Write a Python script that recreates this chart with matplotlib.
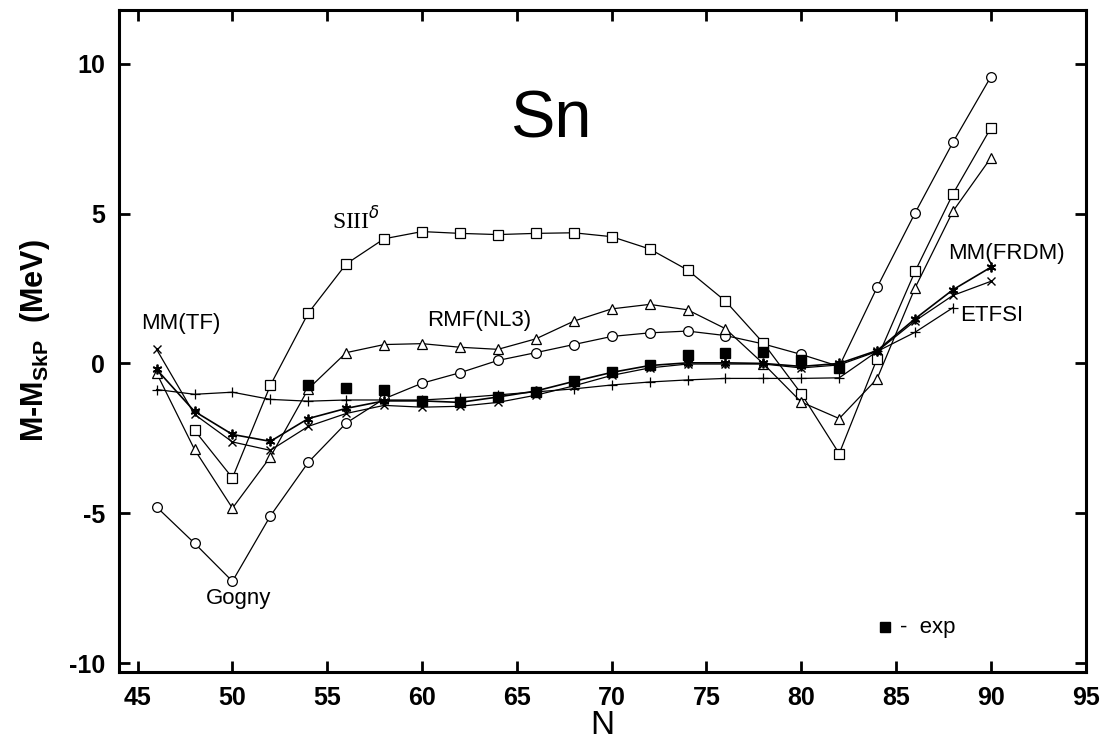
import numpy as np
import matplotlib
matplotlib.use("Agg")
import matplotlib.pyplot as plt

plt.rcParams["font.family"] = ["Liberation Sans", "DejaVu Sans"]
plt.rcParams["axes.unicode_minus"] = False
plt.rcParams["mathtext.fontset"] = "custom"
plt.rcParams["mathtext.rm"] = "Liberation Sans"

# ---- data --------------------------------------------------------------
N_all = [46, 48, 50, 52, 54, 56, 58, 60, 62, 64, 66, 68,
         70, 72, 74, 76, 78, 80, 82, 84, 86, 88, 90]

gogny = [-4.79, -6.0, -7.27, -5.09, -3.3, -1.99, -1.18, -0.66, -0.31, 0.1, 0.36, 0.63,
         0.9, 1.02, 1.08, 0.93, 0.65, 0.3, -0.1, 2.54, 5.02, 7.38, 9.57]

rmf_nl3 = [-0.32, -2.87, -4.83, -3.12, -0.85, 0.36, 0.63, 0.66, 0.54, 0.47, 0.82, 1.41,
           1.82, 1.97, 1.79, 1.16, -0.01, -1.29, -1.84, -0.51, 2.52, 5.08, 6.86]

mm_frdm = [-0.2, -1.6, -2.37, -2.6, -1.84, -1.5, -1.25, -1.25, -1.3, -1.12, -0.92, -0.6,
           -0.3, -0.07, 0.02, 0.02, 0.0, -0.1, 0.0, 0.43, 1.49, 2.46, 3.21]

mm_tf = [0.47, -1.7, -2.62, -2.9, -2.1, -1.67, -1.4, -1.46, -1.43, -1.3, -1.06, -0.75,
         -0.4, -0.15, -0.02, -0.02, -0.02, -0.15, -0.05, 0.4, 1.42, 2.27, 2.74]

N_siii = N_all[1:]
siii = [-2.23, -3.82, -0.73, 1.68, 3.32, 4.16, 4.4, 4.34, 4.3, 4.34, 4.36,
        4.23, 3.82, 3.12, 2.08, 0.68, -1.01, -3.01, 0.16, 3.07, 5.66, 7.86]

N_etfsi = N_all[:-1]
etfsi = [-0.87, -1.03, -0.96, -1.2, -1.26, -1.22, -1.22, -1.22, -1.15, -1.05, -0.95, -0.85,
         -0.72, -0.62, -0.55, -0.5, -0.5, -0.5, -0.48, 0.4, 1.04, 1.86]

N_exp = [54, 56, 58, 60, 62, 64, 66, 68, 70, 72, 74, 76, 78, 80, 82]
exp = [-0.73, -0.81, -0.9, -1.25, -1.3, -1.12, -0.95, -0.6, -0.3, -0.05, 0.27, 0.34,
       0.38, 0.1, -0.15]

x_ticks = [45, 50, 55, 60, 65, 70, 75, 80, 85, 90, 95]
y_ticks = [-10, -5, 0, 5, 10]

# ---- figure ------------------------------------------------------------
fig = plt.figure(figsize=(11.09, 7.56), dpi=100)
ax = fig.add_axes([0.107, 0.111, 0.872, 0.876])

line_kw = dict(color="black", lw=0.9, mfc="white", mec="black", mew=0.9)
ax.plot(N_all, gogny, marker="o", ms=7, **line_kw)
ax.plot(N_siii, siii, marker="s", ms=7, **line_kw)
ax.plot(N_all, rmf_nl3, marker="^", ms=7, **line_kw)
ax.plot(N_etfsi, etfsi, marker="+", ms=7, color="black", lw=0.9, mew=0.9)
ax.plot(N_all, mm_tf, marker="x", ms=6, color="black", lw=0.9, mew=1.0)
ax.plot(N_all, mm_frdm, marker=(6, 2, 0), ms=7, color="black", lw=1.2, mew=1.3)
ax.plot(N_exp, exp, ls="none", marker="s", ms=7, color="black")

ax.set_xlim(44, 95)
ax.set_ylim(-10.3, 11.8)
ax.set_xticks(x_ticks)
ax.set_yticks(y_ticks)
ax.tick_params(direction="in", length=8, width=2, top=True, right=True,
               labelsize=18, pad=10)
for lab in ax.get_xticklabels() + ax.get_yticklabels():
    lab.set_fontweight("bold")
for sp in ax.spines.values():
    sp.set_linewidth(2.2)

ax.set_xlabel("N", fontsize=24, labelpad=0)
ax.set_ylabel("M-M$_{\\mathregular{SkP}}$  (MeV)", fontsize=22,
              fontweight="bold", labelpad=12)

# ---- annotations -------------------------------------------------------
txt = dict(fontsize=16, color="black")
ax.text(66.8, 8.1, "Sn", fontsize=48, ha="center", va="center")
ax.text(56.5, 4.75, "SIII$^{\\delta}$", fontsize=17, family="Liberation Serif",
        ha="center", va="center")
ax.text(63.0, 1.43, "RMF(NL3)", ha="center", va="center", **txt)
ax.text(47.3, 1.33, "MM(TF)", ha="center", va="center", **txt)
ax.text(50.3, -7.85, "Gogny", ha="center", va="center", **txt)
ax.text(90.8, 3.67, "MM(FRDM)", ha="center", va="center", **txt)
ax.text(88.4, 1.6, "ETFSI", ha="left", va="center", **txt)
ax.plot([84.4], [-8.8], ls="none", marker="s", ms=7, color="black")
ax.text(85.2, -8.8, "-  exp", ha="left", va="center", **txt)

fig.savefig("out.png", dpi=100)
